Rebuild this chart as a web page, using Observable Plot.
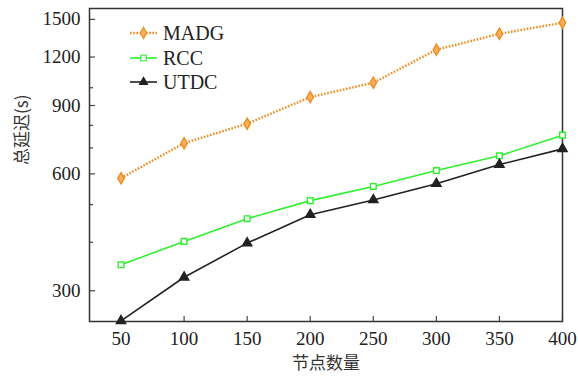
<!DOCTYPE html>
<html><head><meta charset="utf-8">
<script src="https://cdn.jsdelivr.net/npm/d3@7"></script>
<script src="https://cdn.jsdelivr.net/npm/@observablehq/plot@0.6"></script>
<style>
body{margin:0;background:#fff}
#wrap{position:relative;width:578px;height:379px}
#legend{position:absolute;left:0;top:0}
</style>
</head><body><div id="wrap"></div>
<script>
const nodes = [50, 100, 150, 200, 250, 300, 350, 400];
const madg = [585, 720, 808, 946, 1030, 1253, 1377, 1470];
const rcc = [350, 402, 460, 512, 557, 612, 668, 755];
const utdc = [251, 325, 398, 471, 514, 566, 634, 696];
const yMajor = [300, 600, 900, 1200, 1500];
const yMinor = [400, 500, 700, 800, 1000];
const xTicks = [50, 100, 150, 200, 250, 300, 350, 400];
const colors = {MADG: "#f08c1e", RCC: "#2ef02e", UTDC: "#222222"};

const rows = [];
nodes.forEach((n, i) => {
  rows.push({series: "MADG", n, v: madg[i]});
  rows.push({series: "RCC", n, v: rcc[i]});
  rows.push({series: "UTDC", n, v: utdc[i]});
});
const bySeries = s => rows.filter(d => d.series === s);

const serif = "Liberation Serif";
const cjk = "Noto Sans CJK SC";
const W = 578, H = 379, mL = 89, mR = 16, mT = 8, mB = 58;
const innerW = W - mL - mR, innerH = H - mT - mB;

const chart = Plot.plot({
  width: W, height: H,
  marginLeft: mL, marginRight: mR, marginTop: mT, marginBottom: mB,
  style: {fontFamily: serif, fontSize: "19px", color: "#222", background: "#fff"},
  x: {domain: [25, 400]},
  y: {type: "log", domain: [250, 1600]},
  marks: [
    Plot.ruleX(xTicks, {x: d => d, insetTop: innerH - 5, stroke: "#444", strokeWidth: 1.2}),
    Plot.ruleY(yMajor, {y: d => d, insetRight: innerW - 6, stroke: "#444", strokeWidth: 1.2}),
    Plot.ruleY(yMinor, {y: d => d, insetRight: innerW - 4, stroke: "#444", strokeWidth: 1.2}),
    Plot.frame({stroke: "#333", strokeWidth: 1.5}),
    Plot.axisX(xTicks, {tickSize: 0, tickPadding: 10, label: null, fill: "#222", fontFamily: serif, fontSize: 19}),
    Plot.axisY(yMajor, {tickSize: 0, tickPadding: 9, tickFormat: d => String(d), label: null, fill: "#222", fontFamily: serif, fontSize: 19}),
    Plot.text(["节点数量"], {frameAnchor: "bottom", dy: 47, fontFamily: cjk, fontSize: 17, fill: "#333"}),
    Plot.text(["总延迟(s)"], {frameAnchor: "left", dx: -67, rotate: -90, fontFamily: cjk, fontSize: 17, fill: "#333"}),
    Plot.line(bySeries("MADG"), {x: "n", y: "v", stroke: colors.MADG, strokeWidth: 2.4, strokeDasharray: "1.6,1.6", strokeLinecap: "butt"}),
    Plot.line(bySeries("RCC"), {x: "n", y: "v", stroke: colors.RCC, strokeWidth: 1.6}),
    Plot.line(bySeries("UTDC"), {x: "n", y: "v", stroke: colors.UTDC, strokeWidth: 1.6}),
    Plot.dot(bySeries("MADG"), {x: "n", y: "v", symbol: "diamond", r: 3.4, fill: "#f5b061", stroke: colors.MADG, strokeWidth: 1.4}),
    Plot.dot(bySeries("RCC"), {x: "n", y: "v", symbol: "square", r: 3.2, fill: "#fff", stroke: colors.RCC, strokeWidth: 1.4}),
    Plot.dot(bySeries("UTDC"), {x: "n", y: "v", symbol: "triangle", r: 3.4, fill: colors.UTDC, stroke: colors.UTDC})
  ]
});
const wrap = document.getElementById("wrap");
wrap.appendChild(chart);

// legend overlay
const leg = d3.select(wrap).append("svg").attr("id", "legend").attr("width", W).attr("height", H);
const items = [
  {name: "MADG", y: 33, dash: "1.6,1.6", sw: 2.4, sym: d3.symbolDiamond, fill: "#f5b061", size: 36},
  {name: "RCC", y: 58, dash: null, sw: 1.6, sym: d3.symbolSquare, fill: "#fff", size: 30},
  {name: "UTDC", y: 82, dash: null, sw: 1.6, sym: d3.symbolTriangle, fill: "#222", size: 28}
];
items.forEach(it => {
  const g = leg.append("g");
  g.append("line").attr("x1", 130).attr("x2", 157).attr("y1", it.y).attr("y2", it.y)
    .attr("stroke", colors[it.name]).attr("stroke-width", it.sw).attr("stroke-dasharray", it.dash);
  g.append("path").attr("d", d3.symbol(it.sym, it.size)())
    .attr("transform", `translate(143.5,${it.y})`).attr("fill", it.fill)
    .attr("stroke", colors[it.name]).attr("stroke-width", 1.2);
  g.append("text").attr("x", 163).attr("y", it.y).attr("dy", "0.35em")
    .attr("font-family", serif).attr("font-size", 20).attr("fill", "#222").text(it.name);
});
</script>
</body></html>
